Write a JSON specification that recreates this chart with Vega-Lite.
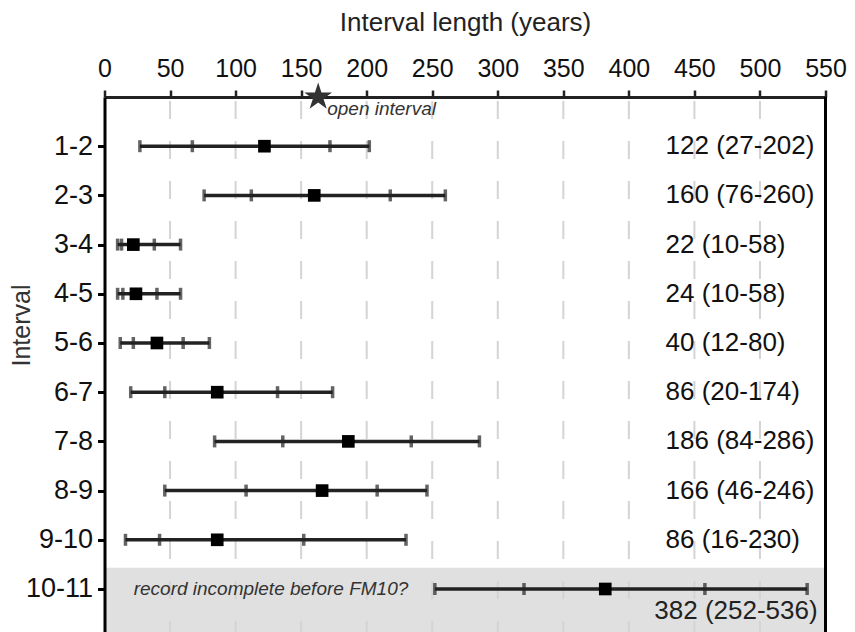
{
  "$schema": "https://vega.github.io/schema/vega-lite/v6.json",
  "width": 721,
  "height": 535,
  "autosize": "none",
  "padding": {"left": 104.5, "top": 97, "right": 29.5, "bottom": 0},
  "config": {"view": {"stroke": null}, "font": "Liberation Sans"},
  "datasets": {
    "intervals": [
      {"iv": "1-2", "k": 1, "min": 27, "q1": 67, "med": 122, "q3": 172, "max": 202, "label": "122 (27-202)"},
      {"iv": "2-3", "k": 2, "min": 76, "q1": 112, "med": 160, "q3": 218, "max": 260, "label": "160 (76-260)"},
      {"iv": "3-4", "k": 3, "min": 10, "q1": 13, "med": 22, "q3": 38, "max": 58, "label": "22 (10-58)"},
      {"iv": "4-5", "k": 4, "min": 10, "q1": 14, "med": 24, "q3": 40, "max": 58, "label": "24 (10-58)"},
      {"iv": "5-6", "k": 5, "min": 12, "q1": 22, "med": 40, "q3": 60, "max": 80, "label": "40 (12-80)"},
      {"iv": "6-7", "k": 6, "min": 20, "q1": 46, "med": 86, "q3": 132, "max": 174, "label": "86 (20-174)"},
      {"iv": "7-8", "k": 7, "min": 84, "q1": 136, "med": 186, "q3": 234, "max": 286, "label": "186 (84-286)"},
      {"iv": "8-9", "k": 8, "min": 46, "q1": 108, "med": 166, "q3": 208, "max": 246, "label": "166 (46-246)"},
      {"iv": "9-10", "k": 9, "min": 16, "q1": 42, "med": 86, "q3": 152, "max": 230, "label": "86 (16-230)"},
      {"iv": "10-11", "k": 10, "min": 252, "q1": 320, "med": 382, "q3": 458, "max": 536, "label": "382 (252-536)"}
    ],
    "grid": [{"g": 50}, {"g": 100}, {"g": 150}, {"g": 200}, {"g": 250}, {"g": 300}, {"g": 350}, {"g": 400}, {"g": 450}, {"g": 500}],
    "open": [{"v": 163, "k": 0, "label": "open interval"}]
  },
  "layer": [
    {
      "data": {"values": [{}]},
      "mark": {"type": "rect", "color": "#e0e0e0"},
      "encoding": {
        "x": {"datum": 0, "type": "quantitative",
          "scale": {"domain": [0, 550], "nice": false, "zero": false},
          "title": "Interval length (years)",
          "axis": {"orient": "top", "values": [0, 50, 100, 150, 200, 250, 300, 350, 400, 450, 500, 550],
            "grid": false, "domainColor": "#222", "domainWidth": 3, "tickColor": "#222", "tickWidth": 2.5, "tickSize": 7,
            "labelFontSize": 25, "labelColor": "#111", "labelPadding": 9, "labelFlush": false,
            "titleFontSize": 26, "titleFontWeight": "normal", "titleColor": "#222", "titlePadding": 21}},
        "x2": {"datum": 550},
        "y": {"datum": 9.57, "type": "quantitative",
          "scale": {"domain": [0, 10.874], "nice": false, "zero": false, "reverse": true},
          "title": "Interval",
          "axis": {"orient": "left", "values": [1, 2, 3, 4, 5, 6, 7, 8, 9, 10], "zindex": 1,
            "labelExpr": "['','1-2','2-3','3-4','4-5','5-6','6-7','7-8','8-9','9-10','10-11'][datum.value]",
            "grid": false, "domainColor": "#000", "domainWidth": 3, "tickColor": "#000", "tickWidth": 3, "tickSize": 7,
            "labelFontSize": 27, "labelColor": "#111", "labelPadding": 5,
            "titleFontSize": 25, "titleFontWeight": "normal", "titleColor": "#333", "titleY": 228, "titleX": -70}},
        "y2": {"datum": 10.874}
      }
    },
    {
      "data": {"name": "grid"},
      "mark": {"type": "rule", "color": "#d4d4d4", "strokeWidth": 2, "strokeDash": [18, 22], "strokeDashOffset": -4},
      "encoding": {
        "x": {"field": "g", "type": "quantitative", "title": "Interval length (years)"},
        "y": {"datum": 0, "type": "quantitative", "title": "Interval"},
        "y2": {"datum": 10.874}
      }
    },
    {
      "data": {"values": [{}]},
      "mark": {"type": "rule", "color": "#000", "strokeWidth": 3},
      "encoding": {
        "x": {"datum": 550, "type": "quantitative", "title": "Interval length (years)"},
        "y": {"datum": 0, "type": "quantitative", "title": "Interval"},
        "y2": {"datum": 10.874}
      }
    },
    {
      "data": {"name": "intervals"},
      "layer": [
        {
          "mark": {"type": "rule", "color": "#222", "strokeWidth": 3.5},
          "encoding": {
            "x": {"field": "min", "type": "quantitative", "title": "Interval length (years)"},
            "x2": {"field": "max"},
            "y": {"field": "k", "type": "quantitative", "title": "Interval"}
          }
        },
        {
          "transform": [{"fold": ["min", "q1", "q3", "max"], "as": ["stat", "val"]}],
          "mark": {"type": "tick", "orient": "vertical", "color": "#222", "thickness": 3.5, "size": 12},
          "encoding": {
            "x": {"field": "val", "type": "quantitative", "title": "Interval length (years)"},
            "y": {"field": "k", "type": "quantitative", "title": "Interval"}
          }
        },
        {
          "mark": {"type": "point", "shape": "square", "filled": true, "color": "#000", "opacity": 1, "size": 160},
          "encoding": {
            "x": {"field": "med", "type": "quantitative", "title": "Interval length (years)"},
            "y": {"field": "k", "type": "quantitative", "title": "Interval"}
          }
        },
        {
          "transform": [{"filter": "datum.k < 10"}],
          "mark": {"type": "text", "align": "left", "baseline": "middle", "fontSize": 26, "color": "#111"},
          "encoding": {
            "x": {"datum": 428, "type": "quantitative", "title": "Interval length (years)"},
            "y": {"field": "k", "type": "quantitative", "title": "Interval"},
            "text": {"field": "label"}
          }
        },
        {
          "transform": [{"filter": "datum.k == 10"}],
          "mark": {"type": "text", "align": "right", "baseline": "middle", "fontSize": 26, "color": "#222", "dy": 22},
          "encoding": {
            "x": {"datum": 544, "type": "quantitative", "title": "Interval length (years)"},
            "y": {"field": "k", "type": "quantitative", "title": "Interval"},
            "text": {"field": "label"}
          }
        },
        {
          "transform": [{"filter": "datum.k == 10"}],
          "mark": {"type": "text", "align": "center", "baseline": "middle", "fontSize": 19, "fontStyle": "italic", "color": "#333"},
          "encoding": {
            "x": {"datum": 127, "type": "quantitative", "title": "Interval length (years)"},
            "y": {"field": "k", "type": "quantitative", "title": "Interval"},
            "text": {"value": "record incomplete before FM10?"}
          }
        }
      ]
    },
    {
      "data": {"name": "open"},
      "layer": [
        {
          "mark": {"type": "point", "shape": "M0,-1L0.2245,-0.309L0.951,-0.309L0.363,0.118L0.588,0.809L0,0.382L-0.588,0.809L-0.363,0.118L-0.951,-0.309L-0.2245,-0.309Z", "filled": true, "color": "#333", "opacity": 1, "size": 850},
          "encoding": {
            "x": {"field": "v", "type": "quantitative", "title": "Interval length (years)"},
            "y": {"field": "k", "type": "quantitative", "title": "Interval"}
          }
        },
        {
          "mark": {"type": "text", "align": "left", "baseline": "middle", "fontSize": 19, "fontStyle": "italic", "color": "#333", "dx": 9, "dy": 12},
          "encoding": {
            "x": {"field": "v", "type": "quantitative", "title": "Interval length (years)"},
            "y": {"field": "k", "type": "quantitative", "title": "Interval"},
            "text": {"field": "label"}
          }
        }
      ]
    }
  ]
}
